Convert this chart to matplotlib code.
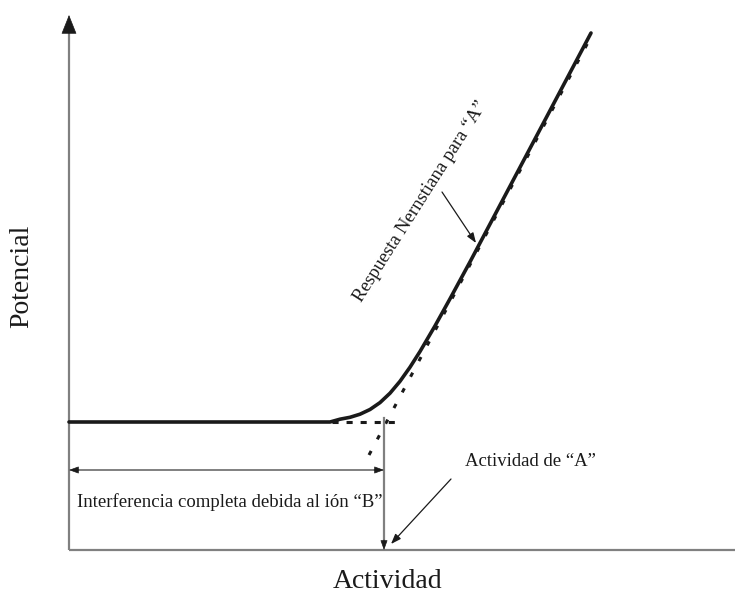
import matplotlib
matplotlib.use("Agg")
import matplotlib.pyplot as plt

# ---- data (chart units: activity axis, potential axis; origin at axes corner) ----
curve_act = [0, 261, 271, 281, 291, 301, 311, 321, 331, 341, 351, 366, 381, 401, 522]
curve_pot = [128, 128, 130.8, 132.7, 135.8, 140.5, 147.4, 156.8, 168.7, 182.8, 198.5, 224.1, 251.2, 288.1, 517]
nernst_act = [300, 524]
nernst_pot = [95, 517]
flat_ext_act = [263, 329]
flat_level = 128
a_intersect = 315
interf_arrow_pot = 80
x_axis_end = 676
y_axis_end = 535

label_interf = "Interferencia completa debida al ión \u201cB\u201d"
label_actA = "Actividad de \u201cA\u201d"
label_nernst = "Respuesta Nernstiana para \u201cA\u201d"
xlabel = "Actividad"
ylabel = "Potencial"

plt.rcParams['font.family'] = ['Liberation Serif', 'DejaVu Serif']

fig = plt.figure(figsize=(7.36, 5.98), dpi=100)
ax = fig.add_axes([0, 0, 1, 1])
ax.set_xlim(-69, 667)
ax.set_ylim(-48, 550)
ax.axis('off')

gray = '#808080'
black = '#1a1a1a'

# axes lines
ax.plot([0, 0], [0, y_axis_end - 10], color=gray, lw=1.6, solid_capstyle='butt')
ax.plot([0, x_axis_end - 10], [0, 0], color=gray, lw=1.6, solid_capstyle='butt')
big_head = dict(arrowstyle='-|>,head_length=1.25,head_width=0.5', color=black, lw=0.5,
                shrinkA=0, shrinkB=0)
ax.annotate('', xy=(0, y_axis_end), xytext=(0, y_axis_end - 18), arrowprops=big_head)
ax.annotate('', xy=(x_axis_end, 0), xytext=(x_axis_end - 18, 0), arrowprops=big_head)

# response curve
ax.plot(curve_act, curve_pot, color=black, lw=2.6, solid_capstyle='round', zorder=3)
# Nernstian extrapolation (dotted)
ax.plot(nernst_act, nernst_pot, color=black, lw=2.2, linestyle=(0, (1.5, 4.3)), zorder=2)
# flat extrapolation (dashed)
ax.plot(flat_ext_act, [flat_level, flat_level], color=black, lw=2.2,
        linestyle=(0, (2.0, 2.6)), zorder=2)

# vertical marker at intersection
small_head = '-|>,head_length=0.6,head_width=0.22'
ax.plot([a_intersect, a_intersect], [flat_level + 4, 4], color=gray, lw=1.6)
ax.annotate('', xy=(a_intersect, 0), xytext=(a_intersect, 10),
            arrowprops=dict(arrowstyle=small_head, color=black, lw=0.5, shrinkA=0, shrinkB=0))

# double arrow for interference range
ax.plot([4, a_intersect - 4], [interf_arrow_pot, interf_arrow_pot], color=gray, lw=1.4)
for tip, tail in [(0, 10), (a_intersect, a_intersect - 10)]:
    ax.annotate('', xy=(tip, interf_arrow_pot), xytext=(tail, interf_arrow_pot),
                arrowprops=dict(arrowstyle=small_head, color=black, lw=0.5, shrinkA=0, shrinkB=0))

ax.text(8, 48, label_interf, fontsize=13.5, ha='left', va='center', color=black)

# Actividad de "A"
ax.text(396, 88, label_actA, fontsize=13.5, ha='left', va='center', color=black)
ax.annotate('', xy=(322, 6), xytext=(382, 71),
            arrowprops=dict(arrowstyle=small_head, color=black, lw=0.9, shrinkA=0, shrinkB=0))

# Nernstian label
ax.text(352, 348, label_nernst, fontsize=13.5, rotation=57.6, rotation_mode='anchor',
        ha='center', va='center', color=black)
ax.annotate('', xy=(407, 307), xytext=(373, 358),
            arrowprops=dict(arrowstyle=small_head, color=black, lw=0.9, shrinkA=0, shrinkB=0))

# axis labels
ax.text(319, -31, xlabel, fontsize=20, ha='center', va='center', color=black)
ax.text(-47, 274, ylabel, fontsize=20, rotation=90, ha='center', va='center', color=black)

fig.savefig('out.png', dpi=100)
